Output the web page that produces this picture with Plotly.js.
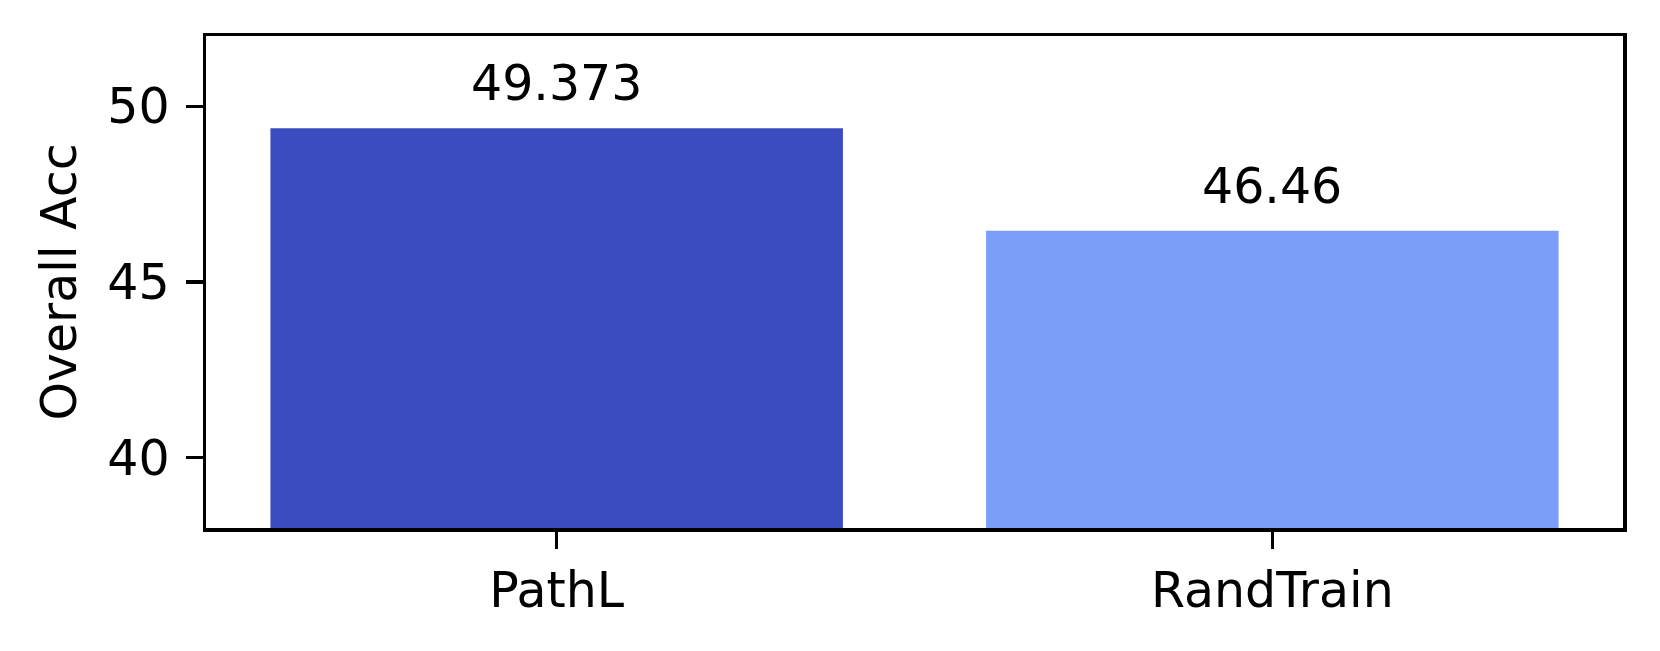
<!DOCTYPE html>
<html>
<head>
<meta charset="utf-8">
<script src="https://cdn.plot.ly/plotly-3.0.1.min.js"></script>
<style>html,body{margin:0;padding:0;background:#fff;}#chart{width:1660px;height:651px;}</style>
</head>
<body>
<div id="chart"></div>
<script>
const categories = ["PathL", "RandTrain"];
const values = [49.373, 46.46];
const valueLabels = ["49.373", "46.46"];
const barColors = ["#3b4cc0", "#7b9ff9"];
const yTickVals = [40, 45, 50];

const FONT = "DejaVu Sans, sans-serif";
const trace = {
  type: "bar",
  x: categories,
  y: values,
  base: 0,
  width: 0.8,
  marker: {color: barColors, line: {width: 0}},
  hoverinfo: "skip"
};
const annotations = categories.map((c, i) => ({
  x: c, y: values[i], xref: "x", yref: "y",
  text: valueLabels[i], showarrow: false,
  yanchor: "bottom", yshift: 14,
  font: {family: FONT, size: 49, color: "#000"}
}));
const layout = {
  width: 1660, height: 651,
  margin: {l: 206, r: 37, t: 36, b: 123},
  paper_bgcolor: "#fff", plot_bgcolor: "#fff",
  showlegend: false,
  font: {family: FONT, size: 49, color: "#000"},
  xaxis: {
    type: "category", range: [-0.49, 1.49],
    showline: true, mirror: true, linecolor: "#000", linewidth: 3.5,
    ticks: "outside", ticklen: 17, tickwidth: 3.5, tickcolor: "#000",
    showgrid: false, zeroline: false,
    tickfont: {family: FONT, size: 49, color: "#000"}
  },
  yaxis: {
    range: [38, 52], tickvals: yTickVals, ticktext: yTickVals.map(String),
    showline: true, mirror: true, linecolor: "#000", linewidth: 3.5,
    ticks: "outside", ticklen: 17, tickwidth: 3.5, tickcolor: "#000",
    ticklabelstandoff: 6,
    showgrid: false, zeroline: false,
    tickfont: {family: FONT, size: 49, color: "#000"},
    title: {text: "Overall Acc", font: {family: FONT, size: 49, color: "#000"}, standoff: 16}
  },
  annotations: annotations
};
Plotly.newPlot("chart", [trace], layout, {staticPlot: true, displayModeBar: false});
</script>
</body>
</html>
